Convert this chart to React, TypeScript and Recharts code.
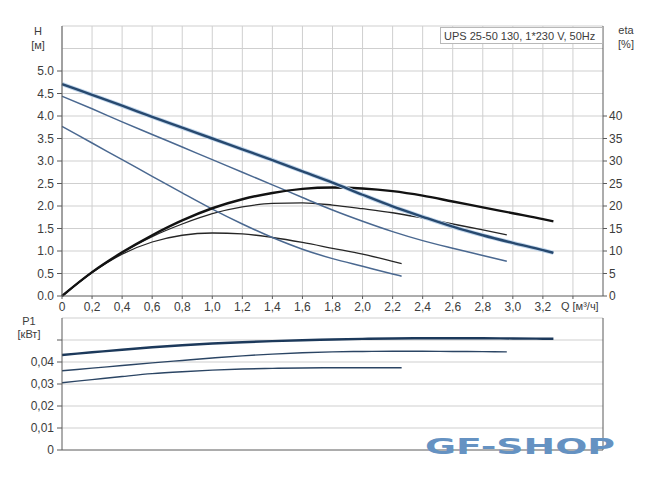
import React from "react";
import { LineChart, Line, XAxis, YAxis, CartesianGrid } from "recharts";

// Flow values (m³/h) for each speed
const Q_SPEED3 = [0, 0.2, 0.4, 0.6, 0.8, 1.0, 1.2, 1.4, 1.6, 1.8, 2.0, 2.2, 2.4, 2.6, 2.8, 3.0, 3.2, 3.27];
const Q_SPEED2 = [0, 0.2, 0.4, 0.6, 0.8, 1.0, 1.2, 1.4, 1.6, 1.8, 2.0, 2.2, 2.4, 2.6, 2.8, 2.96];
const Q_SPEED1 = [0, 0.2, 0.4, 0.6, 0.8, 1.0, 1.2, 1.4, 1.6, 1.8, 2.0, 2.2, 2.26];

// Head H [m]
const H_SPEED3 = [4.71, 4.47, 4.23, 3.98, 3.74, 3.5, 3.26, 3.02, 2.77, 2.52, 2.25, 1.99, 1.76, 1.54, 1.35, 1.18, 1.02, 0.96];
const H_SPEED2 = [4.44, 4.16, 3.87, 3.59, 3.31, 3.03, 2.75, 2.47, 2.19, 1.91, 1.66, 1.43, 1.23, 1.06, 0.9, 0.77];
const H_SPEED1 = [3.77, 3.4, 3.03, 2.66, 2.29, 1.93, 1.6, 1.3, 1.04, 0.83, 0.66, 0.49, 0.44];

// Efficiency eta [%]
const ETA_SPEED3 = [0, 5.3, 9.7, 13.5, 16.8, 19.5, 21.5, 22.9, 23.8, 24.1, 23.9, 23.3, 22.3, 21.0, 19.7, 18.4, 17.1, 16.6];
const ETA_SPEED2 = [0, 5.3, 9.6, 13.2, 16.0, 18.3, 19.8, 20.6, 20.7, 20.2, 19.4, 18.5, 17.3, 16.0, 14.7, 13.6];
const ETA_SPEED1 = [0, 5.2, 9.3, 12.0, 13.5, 14.0, 13.8, 13.0, 11.9, 10.6, 9.3, 7.7, 7.2];

// Power P1 [kW]
const P_SPEED3 = [0.0432, 0.0444, 0.0456, 0.0467, 0.0476, 0.0484, 0.049, 0.0495, 0.0499, 0.0502, 0.0505, 0.0507, 0.0508, 0.0508, 0.0508, 0.0507, 0.0506, 0.0506];
const P_SPEED2 = [0.036, 0.0372, 0.0384, 0.0396, 0.0407, 0.0418, 0.0428, 0.0436, 0.0442, 0.0446, 0.0448, 0.0449, 0.0449, 0.0448, 0.0447, 0.0446];
const P_SPEED1 = [0.0306, 0.032, 0.0334, 0.0347, 0.0356, 0.0363, 0.0368, 0.0371, 0.0373, 0.0374, 0.0374, 0.0374, 0.0374];

// Axis ticks
const Q_TICKS = [0, 0.2, 0.4, 0.6, 0.8, 1.0, 1.2, 1.4, 1.6, 1.8, 2.0, 2.2, 2.4, 2.6, 2.8, 3.0, 3.2, 3.4];
const H_TICKS = [0, 0.5, 1.0, 1.5, 2.0, 2.5, 3.0, 3.5, 4.0, 4.5, 5.0];
const H_GRID = [0.5, 1.0, 1.5, 2.0, 2.5, 3.0, 3.5, 4.0, 4.5, 5.0, 5.5, 6.0];
const ETA_TICKS = [0, 5, 10, 15, 20, 25, 30, 35, 40];
const P_TICKS = [0, 0.01, 0.02, 0.03, 0.04, 0.05];
const P_GRID = [0.01, 0.02, 0.03, 0.04, 0.05, 0.06];

const TITLE = "UPS 25-50 130, 1*230 V, 50Hz";
const Q_LABEL = "Q [м³/ч]";

const zip = (qs: number[], vs: number[]) => qs.map((q, i) => ({ q, v: vs[i] }));

const FONT = "'Liberation Sans', Arial, sans-serif";
const TXT = "#3c3c3c";
const AXIS = "#5a5a5a";
const GRID = "#cfcfcf";

const XTick = (props: any) => {
  const { x, y, payload } = props;
  const v = payload.value as number;
  if (Math.abs(v - 3.4) < 1e-6) {
    return (
      <text x={x - 12} y={y} dy="0.71em" textAnchor="start" fontSize={11} fill={TXT} fontFamily={FONT}>
        {Q_LABEL}
      </text>
    );
  }
  const label = v === 0 ? "0" : v.toFixed(1).replace(".", ",");
  return (
    <text x={x} y={y} dy="0.71em" textAnchor="middle" fontSize={12} fill={TXT} fontFamily={FONT}>
      {label}
    </text>
  );
};

const pFmt = (v: number) => (v === 0 ? "0" : v >= 0.05 ? "" : v.toFixed(2).replace(".", ","));

export default function App() {
  const hd3 = zip(Q_SPEED3, H_SPEED3);
  const hd2 = zip(Q_SPEED2, H_SPEED2);
  const hd1 = zip(Q_SPEED1, H_SPEED1);
  const ed3 = zip(Q_SPEED3, ETA_SPEED3);
  const ed2 = zip(Q_SPEED2, ETA_SPEED2);
  const ed1 = zip(Q_SPEED1, ETA_SPEED1);
  const pd3 = zip(Q_SPEED3, P_SPEED3);
  const pd2 = zip(Q_SPEED2, P_SPEED2);
  const pd1 = zip(Q_SPEED1, P_SPEED1);

  const tickStyle = { fontSize: 12, fill: TXT, fontFamily: FONT };

  return (
    <div style={{ position: "absolute", left: 0, top: 0, width: 650, height: 486, background: "#fff" }}>
      <div style={{ position: "absolute", left: 0, top: 0 }}>
        <LineChart width={650} height={318} margin={{ top: 26, right: 0, bottom: 0, left: 0 }}>
          <CartesianGrid
            yAxisId="h"
            stroke={GRID}
            strokeWidth={1}
            horizontalValues={H_GRID}
            verticalValues={Q_TICKS}
          />
          <XAxis
            dataKey="q"
            type="number"
            domain={[0, 3.6]}
            ticks={Q_TICKS}
            interval={0}
            height={22}
            tickSize={3}
            tickMargin={3}
            tick={<XTick />}
            stroke={AXIS}
            allowDuplicatedCategory={false}
          />
          <YAxis
            yAxisId="h"
            type="number"
            domain={[0, 6]}
            ticks={H_TICKS}
            interval={0}
            width={62}
            tickSize={5}
            tickMargin={3}
            tickFormatter={(v: number) => v.toFixed(1)}
            tick={tickStyle}
            stroke={AXIS}
          />
          <YAxis
            yAxisId="eta"
            orientation="right"
            type="number"
            domain={[0, 60]}
            ticks={ETA_TICKS}
            interval={0}
            width={47}
            tickSize={4}
            tickMargin={2}
            tick={tickStyle}
            stroke={AXIS}
          />
          <Line yAxisId="eta" data={ed1} dataKey="v" type="monotone" stroke="#262626" strokeWidth={1.3} dot={false} isAnimationActive={false} />
          <Line yAxisId="eta" data={ed2} dataKey="v" type="monotone" stroke="#262626" strokeWidth={1.3} dot={false} isAnimationActive={false} />
          <Line yAxisId="h" data={hd1} dataKey="v" type="monotone" stroke="#4a6890" strokeWidth={1.5} dot={false} isAnimationActive={false} />
          <Line yAxisId="h" data={hd2} dataKey="v" type="monotone" stroke="#4a6890" strokeWidth={1.5} dot={false} isAnimationActive={false} />
          <Line yAxisId="eta" data={ed3} dataKey="v" type="monotone" stroke="#121212" strokeWidth={2.4} dot={false} isAnimationActive={false} />
          <Line yAxisId="h" data={hd3} dataKey="v" type="monotone" stroke="#bfd4ea" strokeWidth={4.2} dot={false} isAnimationActive={false} />
          <Line yAxisId="h" data={hd3} dataKey="v" type="monotone" stroke="#27496f" strokeWidth={2.4} dot={false} isAnimationActive={false} />
        </LineChart>
      </div>

      <div style={{ position: "absolute", left: 0, top: 310 }}>
        <LineChart width={650} height={150} margin={{ top: 8, right: 0, bottom: 0, left: 0 }}>
          <CartesianGrid
            yAxisId="p"
            stroke={GRID}
            strokeWidth={1}
            horizontalValues={P_GRID}
            verticalValues={Q_TICKS}
          />
          <XAxis
            dataKey="q"
            type="number"
            domain={[0, 3.6]}
            ticks={Q_TICKS}
            height={10}
            tick={false}
            tickLine={false}
            stroke={AXIS}
            allowDuplicatedCategory={false}
          />
          <YAxis
            yAxisId="p"
            type="number"
            domain={[0, 0.06]}
            ticks={P_TICKS}
            interval={0}
            width={62}
            tickSize={5}
            tickMargin={3}
            tickFormatter={pFmt}
            tick={tickStyle}
            stroke={AXIS}
          />
          <YAxis
            yAxisId="r"
            orientation="right"
            type="number"
            domain={[0, 1]}
            width={47}
            tick={false}
            tickLine={false}
            stroke={AXIS}
          />
          <Line yAxisId="p" data={pd1} dataKey="v" type="monotone" stroke="#2b4564" strokeWidth={1.4} dot={false} isAnimationActive={false} />
          <Line yAxisId="p" data={pd2} dataKey="v" type="monotone" stroke="#2b4564" strokeWidth={1.4} dot={false} isAnimationActive={false} />
          <Line yAxisId="p" data={pd3} dataKey="v" type="monotone" stroke="#1c395b" strokeWidth={2.4} dot={false} isAnimationActive={false} />
        </LineChart>
      </div>

      <svg width={650} height={486} style={{ position: "absolute", left: 0, top: 0, pointerEvents: "none" }}>
        <g fontFamily={FONT} fill={TXT} fontSize={11}>
          <text x={38} y={35} textAnchor="middle">H</text>
          <text x={38} y={49} textAnchor="middle">[м]</text>
          <text x={626} y={34} textAnchor="middle">eta</text>
          <text x={626} y={48} textAnchor="middle">[%]</text>
          <text x={29} y={325} textAnchor="middle">P1</text>
          <text x={29} y={338} textAnchor="middle">[кВт]</text>
        </g>
        <rect x={440.5} y={27.5} width={162} height={16} fill="#fff" stroke="#b8b8b8" strokeWidth={1} />
        <text x={444} y={39.5} fontFamily={FONT} fontSize={11} fill={TXT}>{TITLE}</text>
        <text
          x={425}
          y={454}
          fontFamily="'DejaVu Sans', sans-serif"
          fontWeight={900}
          fontSize={21}
          fill="#6592c2"
          textLength={190}
          lengthAdjust="spacingAndGlyphs"
        >
          GF-SHOP
        </text>
      </svg>
    </div>
  );
}
